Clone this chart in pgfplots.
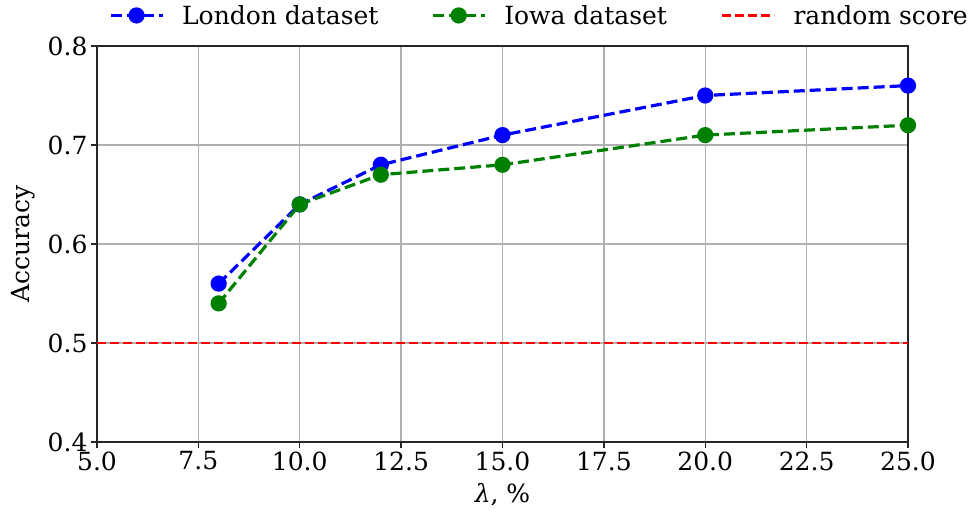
\documentclass[border=0pt]{standalone}
\usepackage{pgfplots}
\pgfplotsset{compat=1.18}
\usepackage{fontspec}
\setmainfont{DejaVu Serif}
\definecolor{mplblue}{RGB}{0,0,255}
\definecolor{mplgreen}{RGB}{0,128,0}
\definecolor{mplred}{RGB}{255,0,0}
\definecolor{gridgray}{RGB}{176,176,176}
\pgfplotsset{
  % legend handle: a short line with the marker in its middle
  midmark legend/.style={
    legend image code/.code={
      \draw[mark repeat=2, mark phase=2, ##1]
        plot coordinates {(0pt,0pt) (26pt,0pt) (52pt,0pt)};
    }
  }
}
\begin{document}
\begin{tikzpicture}[x=1pt,y=1pt]
\path[use as bounding box] (0,0) rectangle (972,513);
\begin{axis}[
  at={(97pt,71pt)}, anchor=south west,
  scale only axis, width=811pt, height=396pt,
  xmin=5, xmax=25, ymin=0.4, ymax=0.8,
  xtick={5,7.5,...,25}, ytick={0.4,0.5,...,0.8},
  xticklabel style={/pgf/number format/.cd,fixed,fixed zerofill,precision=1},
  yticklabel style={/pgf/number format/.cd,fixed,fixed zerofill,precision=1},
  /pgf/number format/assume math mode=true,
  tick label style={font=\fontsize{25}{30}\selectfont},
  label style={font=\fontsize{25}{30}\selectfont},
  xlabel={\textit{λ}, \%}, ylabel={Accuracy},
  xlabel style={yshift=-6pt},
  ylabel style={yshift=6pt},
  grid=major, major grid style={gridgray, line width=1.4pt},
  axis line style={black!85, line width=1.4pt},
  tick style={black!85, line width=1.4pt},
  tick align=outside, major tick length=6pt,
  xtick pos=bottom, ytick pos=left,
  legend columns=3,
  legend cell align=left,
  legend style={draw=none, fill=none, inner sep=0pt,
    at={(1.0740,1.1035)}, anchor=north east,
    font=\fontsize{25}{30}\selectfont,
    nodes={inner sep=0pt},
    /tikz/every odd column/.append style={column sep=18pt},
    /tikz/every even column/.append style={column sep=0pt}},
]
\addplot[mplblue, line width=3.2pt, dash pattern=on 11pt off 5pt, mark=*, mark size=6.5pt, mark options={solid}, midmark legend]
  coordinates {(8,0.56) (10,0.64) (12,0.68) (15,0.71) (20,0.75) (25,0.76)};
\addlegendentry{\makebox[249pt][l]{London dataset}}
\addplot[mplgreen, line width=3.2pt, dash pattern=on 11pt off 5pt, mark=*, mark size=6.5pt, mark options={solid}, midmark legend]
  coordinates {(8,0.54) (10,0.64) (12,0.67) (15,0.68) (20,0.71) (25,0.72)};
\addlegendentry{\makebox[217pt][l]{Iowa dataset}}
\addplot[mplred, line width=2.2pt, dash pattern=on 9pt off 4pt, midmark legend]
  coordinates {(5,0.5) (25,0.5)};
\addlegendentry{random score}
\end{axis}
\end{tikzpicture}
\end{document}
